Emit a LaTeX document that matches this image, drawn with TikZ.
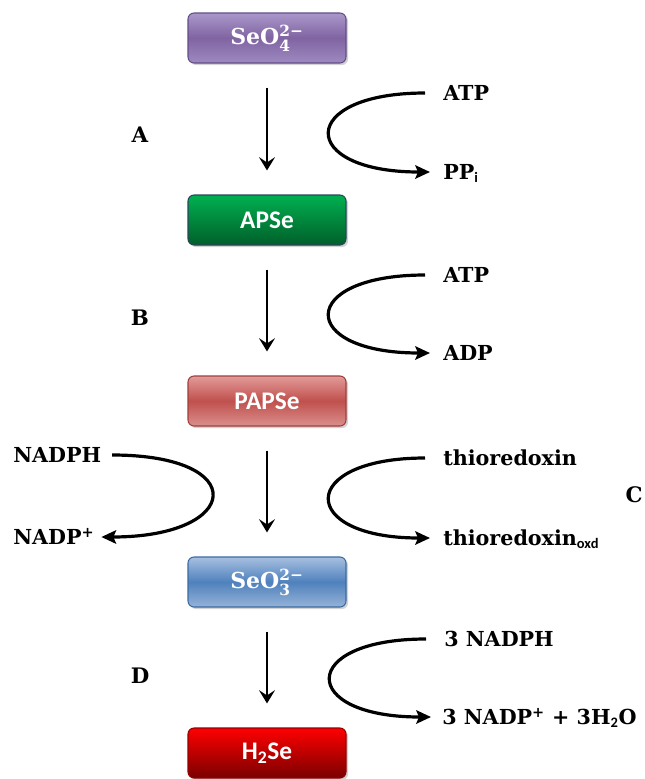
\documentclass[tikz,border=0pt]{standalone}
\usepackage{fontspec}
\usepackage{amsmath}
\setmainfont{DejaVu Serif}
\newfontfamily\calfont{Carlito}
\usetikzlibrary{arrows.meta,shadows}

\tikzset{
  species/.style={rounded corners=4.5pt, minimum width=118.5pt, minimum height=37.5pt,
    text=white, line width=0.8pt, inner sep=0pt,
    drop shadow={shadow xshift=1.5pt, shadow yshift=-1.5pt, opacity=0.35},
    font=\calfont\bfseries\fontsize{19}{21}\selectfont},
  serifbox/.style={font=\bfseries\fontsize{16.5}{20}\selectfont},
  chem/.style={anchor=west, inner sep=0pt, text height=11pt, text depth=0pt,
    font=\bfseries\fontsize{15.5}{18}\selectfont},
  enzyme/.style={inner sep=0pt, font=\bfseries\fontsize{16}{18}\selectfont},
  pathstep/.style={line width=2.2pt, -{Stealth[length=10pt,width=12pt,inset=4pt]},
    shorten <=18pt, shorten >=18pt},
  cofactor/.style={line width=2.4pt, -{Stealth[length=11pt,width=10pt,inset=2pt]}},
}

\begin{document}
\begin{tikzpicture}[x=0.75pt, y=-0.75pt]
    \useasboundingbox (0,0) rectangle (645,779);

    % pathway
    \node[species, serifbox, draw={rgb,255:red,100;green,76;blue,135}, top color={rgb,255:red,170;green,151;blue,202}, bottom color={rgb,255:red,158;green,138;blue,192}, middle color={rgb,255:red,128;green,100;blue,162}] (seo4) at (267,38) {SeO$^{\text{2−}}_{\text{4}}$};
    \node[species, draw={rgb,255:red,40;green,70;blue,90}, top color={rgb,255:red,0;green,176;blue,80}, bottom color={rgb,255:red,0;green,95;blue,42}] (apse) at (267,220) {APSe};
    \node[species, draw={rgb,255:red,160;green,62;blue,60}, top color={rgb,255:red,226;green,155;blue,153}, bottom color={rgb,255:red,218;green,143;blue,140}, middle color={rgb,255:red,192;green,80;blue,77}] (papse) at (267,401) {PAPSe};
    \node[species, serifbox, draw={rgb,255:red,58;green,106;blue,160}, top color={rgb,255:red,167;green,192;blue,224}, bottom color={rgb,255:red,149;green,179;blue,215}, middle color={rgb,255:red,79;green,129;blue,189}] (seo3) at (267,582) {SeO$^{\text{2−}}_{\text{3}}$};
    \node[species, draw={rgb,255:red,150;green,0;blue,0}, top color={rgb,255:red,255;green,0;blue,0}, bottom color={rgb,255:red,122;green,0;blue,0}] (hse) at (267,753) {H\textsubscript{2}Se};

    \draw[pathstep] (seo4.south) -- (apse.north);
    \draw[pathstep] (apse.south) -- (papse.north);
    \draw[pathstep] (papse.south) -- (seo3.north);
    \draw[pathstep] (seo3.south) -- (hse.north);

    % step letters
    \node[enzyme] (stepA) at (140,135) {A};
    \node[enzyme] (stepB) at (140,318) {B};
    \node[enzyme] (stepC) at (634,495) {C};
    \node[enzyme] (stepD) at (140,676) {D};

    % cofactors
    \node[chem] (atpA) at (443,93) {ATP};
    \node[chem] (ppiA) at (443,172) {PP\textsubscript{\calfont i}};
    \node[chem] (atpB) at (443,275) {ATP};
    \node[chem] (adpB) at (443,353) {ADP};
    \node[chem] (thio) at (443,458) {thioredoxin};
    \node[chem] (thiox) at (443,538) {thioredoxin\textsubscript{\calfont oxd}};
    \node[chem] (nadphC) at (13,455) {NADPH};
    \node[chem] (nadpC) at (13,537) {NADP\textsuperscript{+}};
    \node[chem] (nadphD) at (444,639) {3 NADPH};
    \node[chem] (nadpD) at (442,717) {3 NADP\textsuperscript{+} + 3H\textsubscript{\calfont 2}O};

    \draw[cofactor] ([xshift=-13.5pt]atpA.west) .. controls +(-128,0) and +(-133,0) .. ([xshift=-9.75pt]ppiA.west);
    \draw[cofactor] ([xshift=-13.5pt]atpB.west) .. controls +(-128,0) and +(-133,0) .. ([xshift=-9.75pt]adpB.west);
    \draw[cofactor] ([xshift=-13.5pt]thio.west) .. controls +(-128,0) and +(-133,0) .. ([xshift=-9.75pt]thiox.west);
    \draw[cofactor] ([xshift=-13.5pt]nadphD.west) .. controls +(-128,0) and +(-133,0) .. ([xshift=-8.25pt]nadpD.west);
    \draw[cofactor] ([xshift=8pt]nadphC.east) .. controls +(140,0) and +(140,0) .. ([xshift=5pt]nadpC.east);
\end{tikzpicture}
\end{document}
